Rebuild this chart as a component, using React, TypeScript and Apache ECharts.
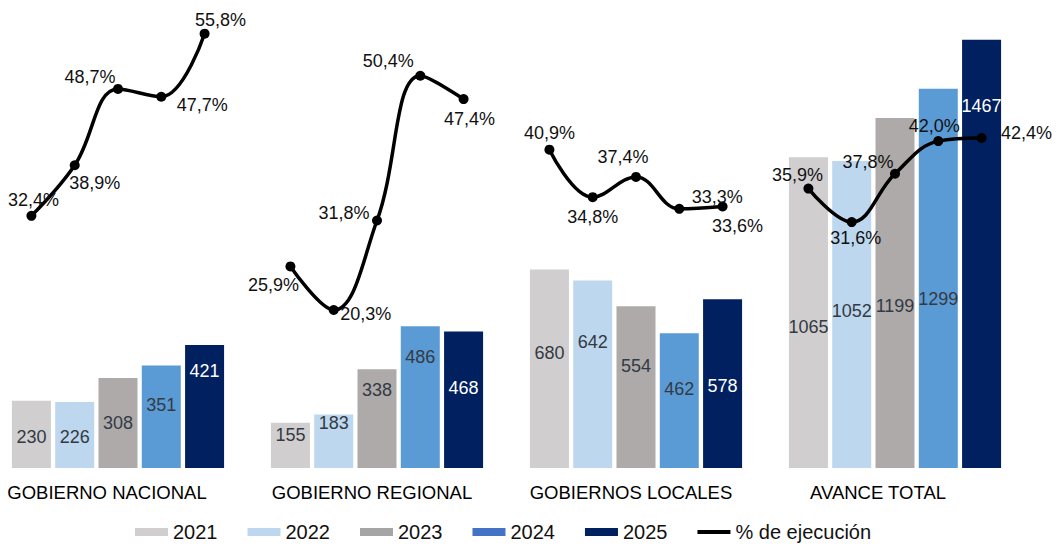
import React, { useEffect, useRef } from "react";
import * as echarts from "echarts";

const categories = ["GOBIERNO NACIONAL", "GOBIERNO REGIONAL", "GOBIERNOS LOCALES", "AVANCE TOTAL"];
const years = ["2021", "2022", "2023", "2024", "2025"];
const v2021 = [230, 155, 680, 1065];
const v2022 = [226, 183, 642, 1052];
const v2023 = [308, 338, 554, 1199];
const v2024 = [351, 486, 462, 1299];
const v2025 = [421, 468, 578, 1467];
const pctNacional = [32.4, 38.9, 48.7, 47.7, 55.8];
const pctRegional = [25.9, 20.3, 31.8, 50.4, 47.4];
const pctLocales = [40.9, 34.8, 37.4, 33.3, 33.6];
const pctTotal = [35.9, 31.6, 37.8, 42.0, 42.4];
const lineName = "% de ejecución";

// styles
const barColors = ["#D0CECE", "#BDD7EE", "#AEAAAA", "#5B9BD5", "#002060"];
const legendColors = ["#D0CECE", "#BDD7EE", "#A5A5A5", "#4472C4", "#002060"];
const labelColors = ["#333a44", "#333a44", "#333a44", "#333a44", "#ffffff"];
// label vertical offset (px from bar top), per year, per category
const barLabelDy = [
  [36, 12, 83.5, 170],
  [35, 8.4, 61, 150],
  [45, 21, 60, 188],
  [39.5, 31, 56, 210],
  [26, 57, 87, 66],
];
// line label offsets per group/point
const lineLabelOff = [
  [[2, -16], [20, 18], [-28, -12], [41, 8], [16, -14]],
  [[-17, 19], [32, 4], [-33, -7], [-32, -15], [6, 20]],
  [[0, -17], [0, 20], [-13, -20], [38, -12], [15, 20]],
  [[-11, -14], [4, 16], [-27, -12], [-4, -15], [45, -5]],
];
const catLabelShift = [22, 10, 10, 34];

const SHIFT = 20; // container extends left beyond the page edge
const W = 1057 + SHIFT;
const H = 546;
const GRID_LEFT = SHIFT - 11.5;
const GRID_WIDTH = 1036;
const GRID_TOP = 1;
const GRID_BOTTOM = 78;
const BAR_W = 39;
const BAR_GAP = 0.11;
const FONT = "'Liberation Sans', Arial, sans-serif";

export default function App() {
  const ref = useRef<HTMLDivElement>(null);
  useEffect(() => {
    if (!ref.current) return;
    const chart = echarts.init(ref.current, null, { renderer: "svg" });
    const values = [v2021, v2022, v2023, v2024, v2025];
    const pcts = [pctNacional, pctRegional, pctLocales, pctTotal];
    const bandWidth = GRID_WIDTH / categories.length;
    const stepUnits = (BAR_W * (1 + BAR_GAP)) / bandWidth;

    const barSeries = years.map((y, s) => ({
      type: "bar",
      name: y,
      xAxisIndex: 0,
      yAxisIndex: 0,
      barWidth: BAR_W,
      barGap: BAR_GAP * 100 + "%",
      itemStyle: { color: barColors[s] },
      data: values[s].map((v, c) => ({
        value: v,
        label: {
          show: true,
          position: ["50%", barLabelDy[s][c]],
          align: "center",
          verticalAlign: "middle",
          color: labelColors[s],
          fontSize: 18,
          fontFamily: FONT,
        },
      })),
    }));

    const lineSeries = pcts.map((arr, g) => ({
      type: "line",
      name: lineName,
      xAxisIndex: 1,
      yAxisIndex: 1,
      smooth: 0.4,
      symbol: "circle",
      symbolSize: 10,
      lineStyle: { color: "#000", width: 3.5 },
      itemStyle: { color: "#000" },
      z: 5,
      data: arr.map((p, k) => ({
        value: [g + 0.5 + (k - 2) * stepUnits, p],
        label: {
          show: true,
          position: "inside",
          offset: lineLabelOff[g][k],
          align: "center",
          verticalAlign: "middle",
          color: "#111",
          fontSize: 18,
          fontFamily: FONT,
          formatter: () => p.toFixed(1).replace(".", ",") + "%",
        },
      })),
    }));

    const rich: Record<string, any> = {};
    categories.forEach((_, i) => {
      rich["c" + i] = {
        fontSize: 18.5,
        fontFamily: FONT,
        color: "#000",
        padding: [0, catLabelShift[i], 0, 0],
      };
    });

    chart.setOption({
      animation: false,
      textStyle: { fontFamily: FONT },
      grid: { left: GRID_LEFT, width: GRID_WIDTH, top: GRID_TOP, bottom: GRID_BOTTOM, containLabel: false },
      xAxis: [
        {
          type: "category",
          data: categories,
          axisLine: { show: false },
          axisTick: { show: false },
          axisLabel: {
            margin: 15,
            interval: 0,
            formatter: (val: string) => "{c" + categories.indexOf(val) + "|" + val + "}",
            rich,
          },
        },
        { type: "value", min: 0, max: categories.length, show: false },
      ],
      yAxis: [
        { type: "value", min: 0, max: 1600, show: false, splitLine: { show: false } },
        { type: "value", min: 0, max: 60, show: false, splitLine: { show: false } },
      ],
      legend: {
        left: 135 + SHIFT,
        top: 522,
        padding: 0,
        itemWidth: 33,
        itemHeight: 8,
        itemGap: 30,
        textStyle: { fontSize: 20, color: "#111", fontFamily: FONT },
        data: [
          ...years.map((y, i) => ({ name: y, icon: "rect", itemStyle: { color: legendColors[i] } })),
          { name: lineName, icon: "path://M0,0H33V4H0Z", itemStyle: { color: "#000" } },
        ],
      },
      series: [...barSeries, ...lineSeries],
    });
    return () => chart.dispose();
  }, []);
  return (
    <div
      ref={ref}
      style={{ position: "fixed", left: -SHIFT, top: 0, width: W, height: H, background: "#fff" }}
    />
  );
}
